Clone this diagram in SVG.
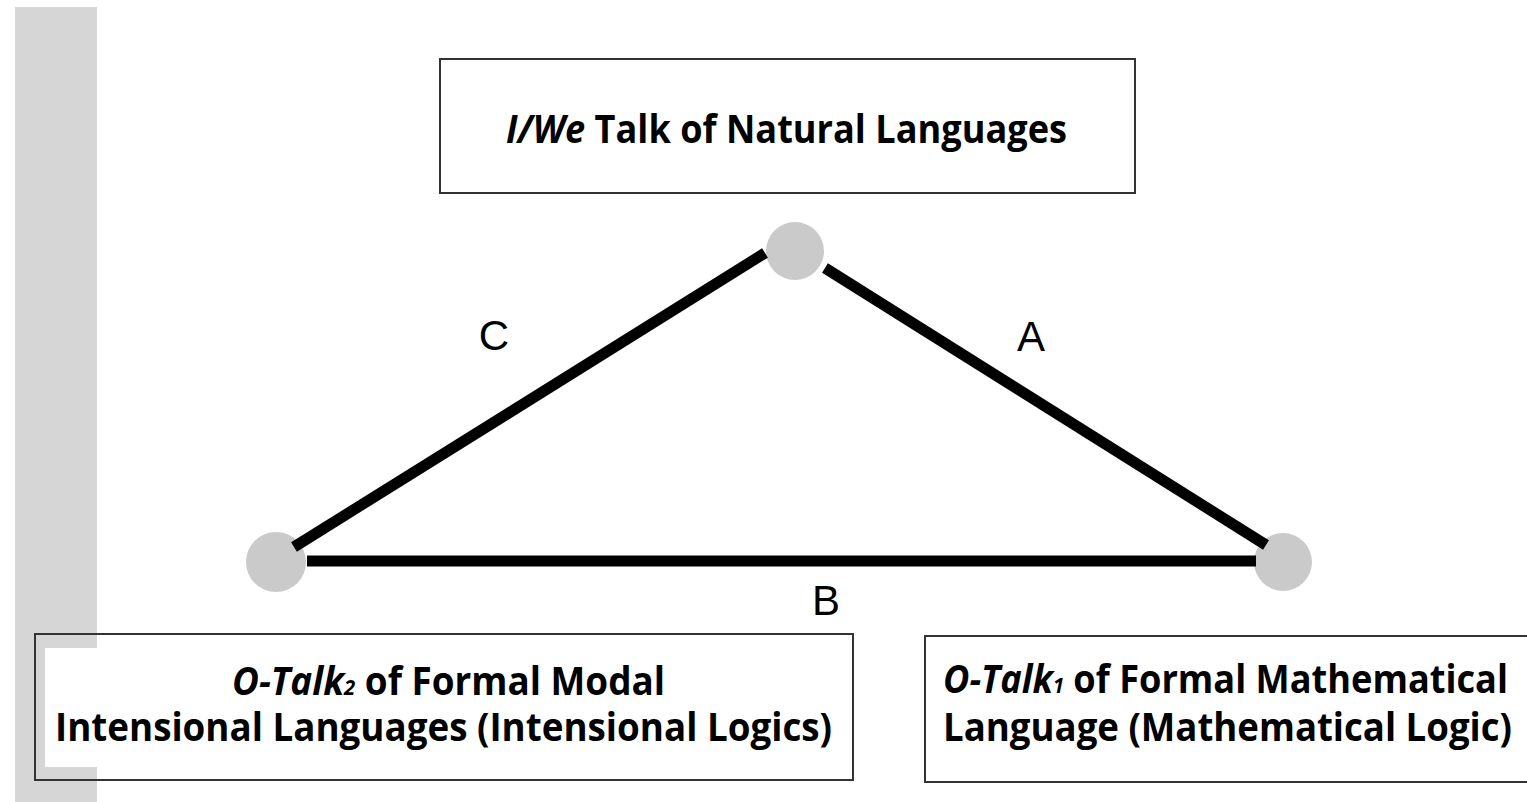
<svg xmlns="http://www.w3.org/2000/svg" width="1527" height="802" viewBox="0 0 1527 802">
<style>
.box{fill:none;stroke:#333;stroke-width:2}
.lbl{font-family:"Open Sans","Lato",sans-serif;font-weight:bold;font-size:40px;fill:#000}
.it{font-style:italic}
.sub{font-size:22px}
.edge{stroke:#000;stroke-width:11;stroke-linecap:butt}
.dot{fill:#cacaca}
.let{font-family:"Liberation Sans",Arial,sans-serif;font-size:42px;fill:#000;text-anchor:middle}
</style>
<rect x="0" y="0" width="1527" height="802" fill="#fff"/>
<rect x="15" y="7" width="82" height="795" fill="#d6d6d6"/>

<g id="node-top">
  <rect class="box" x="440" y="59" width="695" height="134" fill="#fff"/>
  <text class="lbl" x="506" y="143" textLength="561" lengthAdjust="spacingAndGlyphs"><tspan class="it">I/We</tspan> Talk of Natural Languages</text>
</g>

<g id="node-left">
  <rect x="45" y="648" width="60" height="119" fill="#fff"/>
  <rect class="box" x="35" y="634" width="818" height="146"/>
  <text class="lbl" x="232" y="695" textLength="433" lengthAdjust="spacingAndGlyphs"><tspan class="it">O-Talk</tspan><tspan class="it sub">2</tspan> of Formal Modal</text>
  <text class="lbl" x="55" y="741" textLength="777" lengthAdjust="spacingAndGlyphs">Intensional Languages (Intensional Logics)</text>
</g>

<g id="node-right">
  <rect class="box" x="925" y="636" width="640" height="146" fill="#fff"/>
  <text class="lbl" x="943" y="693" textLength="565" lengthAdjust="spacingAndGlyphs"><tspan class="it">O-Talk</tspan><tspan class="it sub">1</tspan> of Formal Mathematical</text>
  <text class="lbl" x="943" y="741" textLength="569" lengthAdjust="spacingAndGlyphs">Language (Mathematical Logic)</text>
</g>

<g id="vertex-top"><circle class="dot" cx="795" cy="251" r="29"/></g>
<g id="vertex-left"><circle class="dot" cx="276" cy="562" r="30"/></g>
<g id="vertex-right"><circle class="dot" cx="1283" cy="562" r="29"/></g>

<g id="connectors">
  <line class="edge" x1="294" y1="547" x2="765" y2="253"/>
  <line class="edge" x1="825" y1="268" x2="1266" y2="545"/>
  <line class="edge" x1="307" y1="561" x2="1256" y2="561"/>
  <text class="let" x="494" y="350">C</text>
  <text class="let" x="1031" y="351">A</text>
  <text class="let" x="826" y="615">B</text>
</g>
</svg>
